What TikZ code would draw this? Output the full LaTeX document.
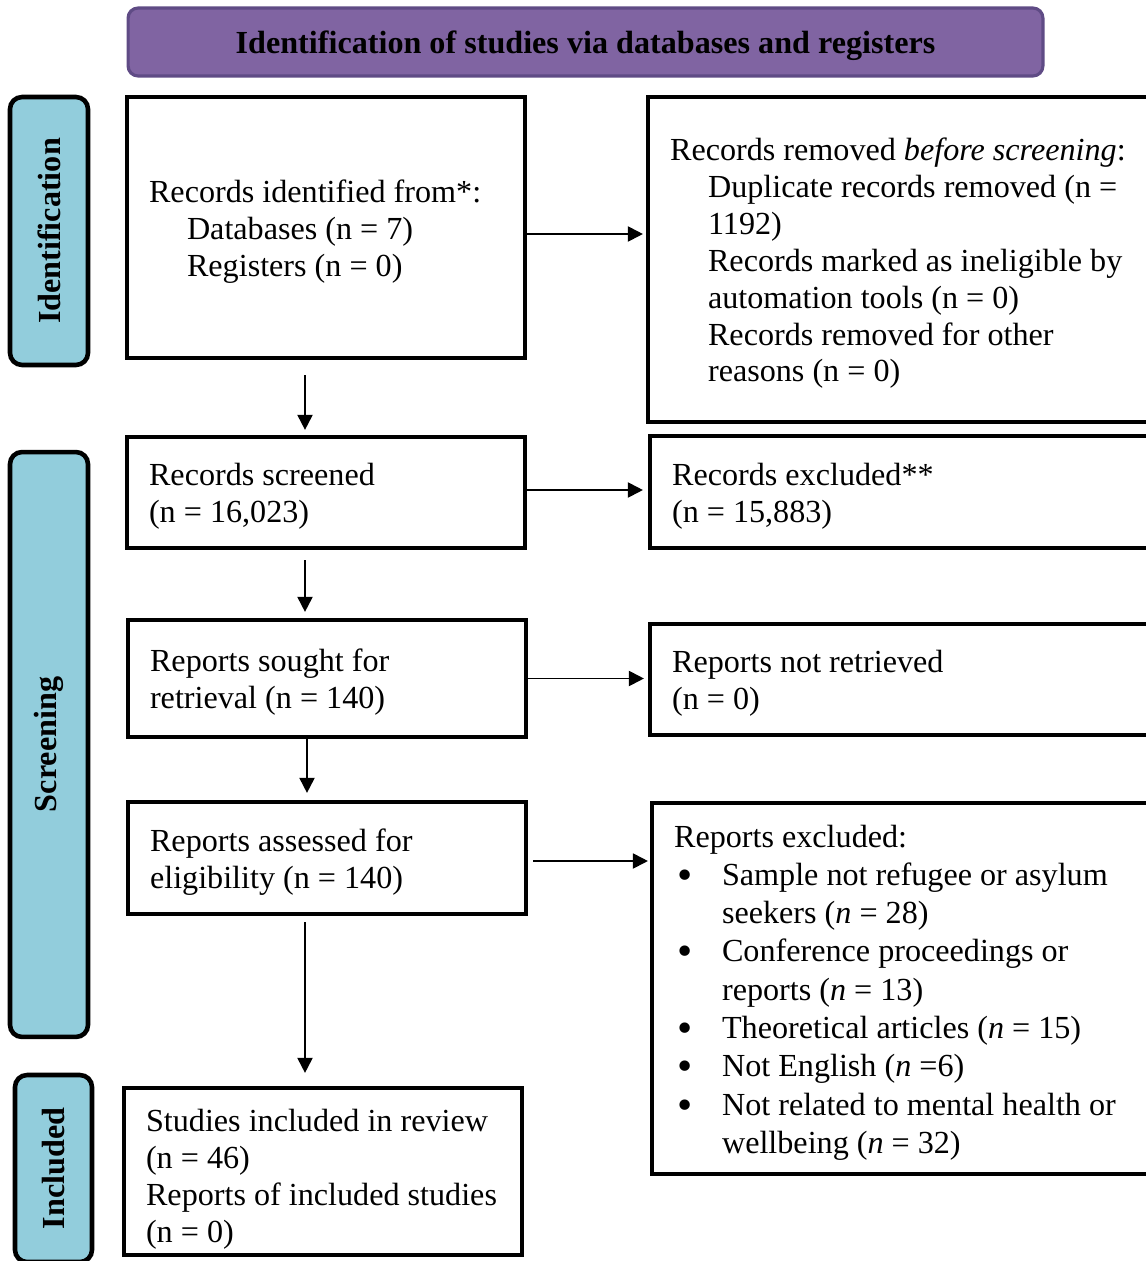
\documentclass[tikz,border=0pt]{standalone}
\usepackage{fontspec}
\setmainfont{Liberation Serif}
\usetikzlibrary{arrows.meta}
\definecolor{bannerfill}{HTML}{8064A2}
\definecolor{bannerline}{HTML}{5F4B85}
\definecolor{phasefill}{HTML}{92CDDC}
\tikzset{
  box/.style={draw, line width=2.4pt, rectangle, inner xsep=0.44cm, inner ysep=0pt, align=flush left, font=\fontsize{18.3}{21}\selectfont},
  phase/.style={draw, line width=2.6pt, rounded corners=0.24cm, fill=phasefill, rotate=90, inner sep=0pt, font=\fontsize{18.3}{21}\selectfont\bfseries},
  banner/.style={draw=bannerline, line width=1.8pt, rounded corners=0.2cm, fill=bannerfill, inner sep=0pt, text height=0.56cm, text depth=0.08cm, font=\fontsize{18.3}{21}\selectfont\bfseries},
  arr/.style={line width=1.1pt, -{Triangle[length=0.3cm,width=0.3cm]}}
}
\newcommand{\tp}{\rule{0pt}{17.3pt}}
\newcommand{\ind}{\hspace*{0.76cm}}
\newcommand{\bul}{\hspace*{0.06cm}\makebox[0.9cm][l]{\raisebox{-2.2pt}[0pt][0pt]{\scalebox{1.35}{\textbullet}}}}
\begin{document}
\begin{tikzpicture}[x=0.02cm, y=-0.02cm]
  \useasboundingbox (0,0) rectangle (1146,1261);
  \clip (0,0) rectangle (1146,1261);

  % Title banner
  \node[banner, minimum width=18.3cm, minimum height=1.36cm] (title) at (585.5,42) {Identification of studies via databases and registers};

  % Phase labels on the left
  \node[phase, minimum width=5.36cm, minimum height=1.56cm] (identification) at (49,231) {Identification};
  \node[phase, minimum width=11.7cm, minimum height=1.56cm] (screening) at (49,744.5) {Screening};
  \node[phase, minimum width=3.74cm, minimum height=1.54cm] (included) at (53.5,1168.5) {Included};

  % Main column
  \node[box, text width=7.08cm, minimum height=5.22cm] (identified) at (326,227.5) {\tp Records identified from*:\\ \ind Databases (n = 7)\\ \ind Registers (n = 0)};
  \node[box, text width=7.08cm, minimum height=2.22cm] (screened) at (326,492.5) {\tp Records screened\\ (n = 16,023)};
  \node[box, text width=7.08cm, minimum height=2.34cm] (sought) at (327,678.5) {\tp Reports sought for\\ retrieval (n = 140)};
  \node[box, text width=7.08cm, minimum height=2.24cm] (assessed) at (327,858) {\tp Reports assessed for\\ eligibility (n = 140)};
  \node[box, text width=7.08cm, minimum height=3.34cm] (studies) at (323,1171.5) {\rule{0pt}{21.7pt}Studies included in review\\ (n = 46)\\ Reports of included studies\\ (n = 0)};

  % Side column (runs past the right edge)
  \node[box, text width=9.76cm, minimum height=6.5cm] (removed) at (914,259.5) {\tp Records removed \textit{before screening}:\\ \ind Duplicate records removed (n =\\ \ind 1192)\\ \ind Records marked as ineligible by\\ \ind automation tools (n = 0)\\ \ind Records removed for other\\ \ind reasons (n = 0)};
  \node[box, text width=9.72cm, minimum height=2.24cm] (excluded) at (915,492) {\tp Records excluded**\\ (n = 15,883)};
  \node[box, text width=9.72cm, minimum height=2.22cm] (notretrieved) at (915,679.5) {\tp Reports not retrieved\\ (n = 0)};
  \node[box, text width=9.68cm, minimum height=7.42cm, font=\fontsize{18.3}{21.8}\selectfont] (reportsexcl) at (916,988.5) {\tp Reports excluded:\\
    \bul Sample not refugee or asylum\\ \hspace*{0.96cm}seekers (\textit{n} = 28)\\
    \bul Conference proceedings or\\ \hspace*{0.96cm}reports (\textit{n} = 13)\\
    \bul Theoretical articles (\textit{n} = 15)\\
    \bul Not English (\textit{n} =6)\\
    \bul Not related to mental health or\\ \hspace*{0.96cm}wellbeing (\textit{n} = 32)};

  % Downward arrows
  \draw[arr, shorten <=0.3cm, shorten >=0.1cm] ([xshift=-0.42cm]identified.south) -- ([xshift=-0.42cm]identified.south |- screened.north);
  \draw[arr, shorten <=0.2cm, shorten >=0.12cm] ([xshift=-0.42cm]screened.south) -- ([xshift=-0.42cm]screened.south |- sought.north);
  \draw[arr, shorten >=0.14cm] ([xshift=-0.4cm]sought.south) -- ([xshift=-0.4cm]sought.south |- assessed.north);
  \draw[arr, shorten <=0.12cm, shorten >=0.26cm] ([xshift=-0.44cm]assessed.south) -- ([xshift=-0.44cm]assessed.south |- studies.north);

  % Arrows to the side column
  \draw[arr, shorten >=0.06cm] ([yshift=-0.13cm]identified.east) -- ([yshift=-0.13cm]identified.east -| removed.west);
  \draw[arr, shorten >=0.1cm] ([yshift=0.05cm]screened.east) -- ([yshift=0.05cm]screened.east -| excluded.west);
  \draw[arr, shorten >=0.08cm] (sought.east) -- (sought.east -| notretrieved.west);
  \draw[arr, shorten <=0.1cm, shorten >=0.04cm] ([yshift=-0.06cm]assessed.east) -- ([yshift=-0.06cm]assessed.east -| reportsexcl.west);
\end{tikzpicture}
\end{document}
